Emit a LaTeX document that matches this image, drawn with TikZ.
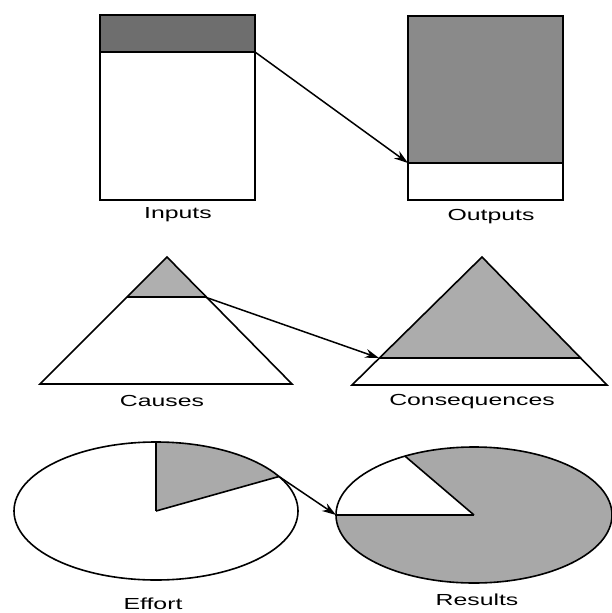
\documentclass[tikz,border=0pt]{standalone}
\usepackage{fontspec}
\setmainfont{Liberation Sans}
\usetikzlibrary{arrows.meta}
\tikzset{
  outl/.style={draw=black, line width=1.6pt, line join=miter},
  lbl/.style={inner sep=0pt, font=\fontsize{16}{19}\selectfont},
  conn/.style={draw=black, line width=1.5pt, -{Stealth[length=14pt,width=9pt]}},
}
\newcommand{\wide}[1]{\scalebox{1.55}[1]{#1}}
\begin{document}
\begin{tikzpicture}[x=1pt,y=-1pt]
\useasboundingbox (0,0) rectangle (612,613);
% ---- Row 1: boxes
\fill[fill=white] (100,15) rectangle (255,200);
\fill[fill={rgb,255:red,110;green,110;blue,110}] (100,15) rectangle (255,52);
\draw[outl] (100,15) rectangle (255,200);
\draw[outl] (100,52) -- (255,52);
\coordinate (inA) at (255,52);
\node[lbl] (inputs) at (178,215) {\wide{Inputs}};

\fill[fill={rgb,255:red,138;green,138;blue,138}] (408,16) rectangle (563,163);
\draw[outl] (408,16) rectangle (563,200);
\draw[outl] (408,163) -- (563,163);
\coordinate (outA) at (408,163);
\node[lbl] (outputs) at (491,217) {\wide{Outputs}};

\draw[conn] (inA) -- (outA);

% ---- Row 2: triangles
\fill[fill={rgb,255:red,175;green,175;blue,175}] (167,257) -- (127,297) -- (205,297) -- cycle;
\draw[outl] (167,257) -- (40,384) -- (292,384) -- cycle;
\draw[outl] (127,297) -- (205,297);
\coordinate (caA) at (205,297);
\node[lbl] (causes) at (162,401) {\wide{Causes}};

\fill[fill={rgb,255:red,172;green,172;blue,172}] (482,257) -- (379,358) -- (581,358) -- cycle;
\draw[outl] (482,257) -- (352,385) -- (607,385) -- cycle;
\draw[outl] (379,358) -- (581,358);
\coordinate (coA) at (379,358);
\node[lbl] (consequences) at (472,402) {\wide{Consequences}};

\draw[conn] (caA) -- (coA);

% ---- Row 3: pies
\coordinate (ec) at (156,511);
\fill[fill={rgb,255:red,170;green,170;blue,170}] (ec) -- ++(0,-69) arc[start angle=-90, end angle=-30, x radius=142, y radius=69] -- cycle;
\draw[outl] (ec) ellipse[x radius=142, y radius=69];
\draw[outl] (ec) -- ++(0,-69);
\draw[outl] (ec) -- ++({142*cos(30)},{-69*sin(30)}) coordinate (efA);
\node[lbl] (effort) at (153,604) {\wide{Effort}};

\coordinate (rc) at (474,515);
\fill[fill={rgb,255:red,168;green,168;blue,168}] (rc) ellipse[x radius=138, y radius=68];
\fill[fill=white] (rc) -- ++(-138,0) arc[start angle=180, end angle=240, x radius=138, y radius=68] -- cycle;
\draw[outl] (rc) ellipse[x radius=138, y radius=68];
\draw[outl] (rc) -- ++(-138,0) coordinate (reA);
\draw[outl] (rc) -- ++({138*cos(120)},{-68*sin(120)});
\node[lbl] (results) at (477,600) {\wide{Results}};

\draw[conn] (efA) -- (reA);
\end{tikzpicture}
\end{document}
